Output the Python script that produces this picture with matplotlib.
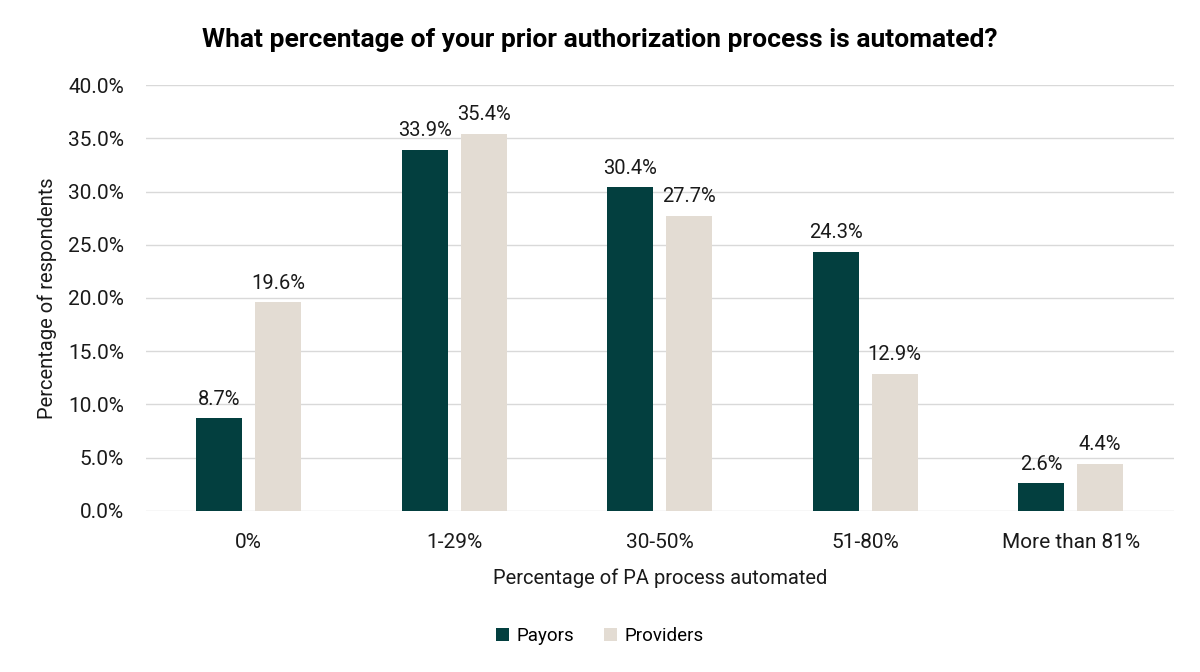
# Grouped bar chart: share of prior authorization process that is automated.
import numpy as np
import matplotlib.pyplot as plt

categories = ['0%', '1-29%', '30-50%', '51-80%', 'More than 81%']
payors = [8.7, 33.9, 30.4, 24.3, 2.6]
providers = [19.6, 35.4, 27.7, 12.9, 4.4]

dark = '#033F3F'
beige = '#E3DCD3'

plt.rcParams['font.family'] = ['Roboto', 'DejaVu Sans']

fig = plt.figure(figsize=(12, 6.72), dpi=100)
ax = fig.add_axes([0.1217, 0.2396, 0.8563, 0.6339])

x = np.arange(len(categories))
w = 0.224
off = 0.143
b1 = ax.bar(x - off, payors, w, color=dark, label='Payors', zorder=3)
b2 = ax.bar(x + off, providers, w, color=beige, label='Providers', zorder=3)

for bars, vals in ((b1, payors), (b2, providers)):
    for rect, v in zip(bars, vals):
        ax.annotate(f'{v:.1f}%', (rect.get_x() + rect.get_width() / 2, v),
                    xytext=(0, 7), textcoords='offset points',
                    ha='center', va='bottom', fontsize=14.5, color='#1a1a1a')

ax.set_xlim(-0.5, len(categories) - 0.5)
ax.set_ylim(0, 40)
ax.set_yticks(np.arange(0, 40.1, 5))
ax.set_yticklabels([f'{t:.1f}%' for t in np.arange(0, 40.1, 5)])
ax.set_xticks(x)
ax.set_xticklabels(categories)
ax.tick_params(length=0, labelsize=15, colors='#1a1a1a')
ax.tick_params(axis='x', pad=16)
ax.tick_params(axis='y', pad=16)
ax.yaxis.grid(True, color='#d9d9d9', linewidth=1, zorder=0)
for s in ax.spines.values():
    s.set_visible(False)

ax.set_ylabel('Percentage of respondents', fontsize=14.5, color='#1a1a1a', labelpad=8)
ax.set_xlabel('Percentage of PA process automated', fontsize=14.5, color='#1a1a1a', labelpad=12)

fig.text(0.5, 0.94, 'What percentage of your prior authorization process is automated?',
         ha='center', va='center', fontsize=19, fontweight='bold', color='black')

fig.legend(handles=[b1, b2], loc='center', bbox_to_anchor=(0.5, 0.054), ncol=2,
           frameon=False, fontsize=13.5, handlelength=0.7, handleheight=0.7,
           handletextpad=0.4, columnspacing=1.6)

fig.savefig('out.png', dpi=100)
